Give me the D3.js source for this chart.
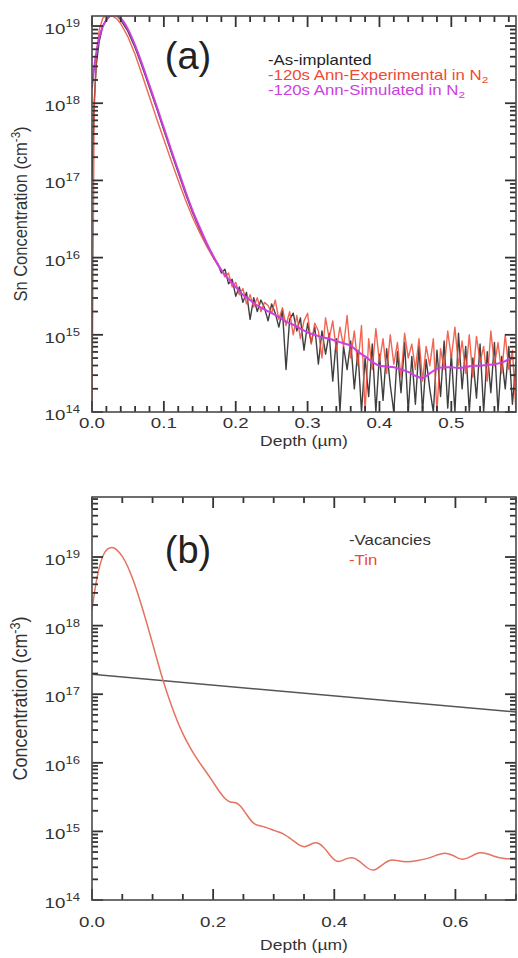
<!DOCTYPE html>
<html>
<head>
<meta charset="utf-8">
<script src="https://cdn.jsdelivr.net/npm/d3@7"></script>
<style>
  html, body { margin: 0; padding: 0; background: #fff; }
  svg { display: block; }
  text { font-family: "Liberation Sans", Arial, Helvetica, sans-serif; }
</style>
</head>
<body>
<svg id="chart" width="518" height="958"></svg>
<script>
// ---------------- DATA ----------------
// Panel (a): depth (µm) and log10 of Sn concentration (cm^-3)
const depthA_peak = [0.000, 0.003, 0.006, 0.010, 0.015, 0.020, 0.025, 0.030, 0.035, 0.040, 0.050, 0.060, 0.070, 0.080, 0.090, 0.100, 0.110, 0.120, 0.130, 0.140, 0.150, 0.160];
const asImplantedPeakLog = [17.0, 18.0, 18.5, 18.8, 19.0, 19.08, 19.13, 19.15, 19.13, 19.08, 18.93, 18.72, 18.47, 18.2, 17.93, 17.65, 17.37, 17.1, 16.83, 16.58, 16.36, 16.16];
const experimentalPeakLog = [14.0, 17.9, 18.6, 18.95, 19.1, 19.15, 19.15, 19.12, 19.09, 19.03, 18.86, 18.63, 18.36, 18.08, 17.8, 17.53, 17.26, 17.0, 16.75, 16.52, 16.32, 16.14];

const depthA_tail = [0.170,0.175,0.180,0.185,0.190,0.195,0.200,0.205,0.210,0.215,0.220,0.225,0.230,0.235,0.240,0.245,0.250,0.255,0.260,0.265,0.270,0.275,0.280,0.285,0.290,0.295,0.300,0.305,0.310,0.315,0.320,0.325,0.330,0.335,0.340,0.345,0.350,0.355,0.360,0.365,0.370,0.375,0.380,0.385,0.390,0.395,0.400,0.405,0.410,0.415,0.420,0.425,0.430,0.435,0.440,0.445,0.450,0.455,0.460,0.465,0.470,0.475,0.480,0.485,0.490,0.495,0.500,0.505,0.510,0.515,0.520,0.525,0.530,0.535,0.540,0.545,0.550,0.555,0.560,0.565,0.570,0.575,0.580,0.585,0.590];
const asImplantedTailLog = [15.98,15.92,15.80,15.85,15.66,15.72,15.50,15.62,15.42,15.55,15.20,15.48,15.30,15.45,15.35,15.18,15.40,15.28,15.10,15.32,14.55,15.20,15.28,15.05,15.22,14.80,15.15,14.90,15.10,14.62,15.05,14.75,15.02,14.40,14.95,14.00,14.85,14.55,14.92,14.30,14.80,14.00,14.70,14.20,14.88,14.00,14.75,14.15,14.82,14.35,14.00,14.78,14.25,14.90,14.00,14.72,14.10,14.85,14.00,14.68,14.30,14.00,14.80,14.20,14.92,14.05,14.75,14.00,15.02,14.30,14.85,14.00,14.70,14.18,14.88,14.00,14.78,14.25,14.90,14.00,14.72,14.30,14.85,14.10,14.65];
const experimentalTailLog = [15.98,15.90,15.84,15.75,15.80,15.62,15.68,15.52,15.60,15.40,15.52,15.36,15.48,15.30,15.42,15.38,15.28,15.45,15.20,15.35,15.12,15.30,15.00,15.25,14.95,15.18,15.28,14.88,15.15,15.05,14.70,15.22,14.95,15.18,14.80,15.10,14.85,15.25,14.70,15.05,14.60,15.12,14.00,14.95,14.55,15.08,14.65,14.95,14.50,15.00,14.62,14.90,14.45,15.02,14.70,14.88,14.55,14.95,14.40,14.85,14.60,14.95,14.00,14.82,14.55,15.05,14.70,15.10,14.60,14.92,14.50,15.00,14.45,14.98,14.65,14.85,14.40,15.05,14.60,14.90,14.50,15.00,14.55,14.80,14.00];

const depthA_sim = [0.000,0.005,0.010,0.020,0.030,0.040,0.050,0.060,0.070,0.080,0.090,0.100,0.110,0.120,0.130,0.140,0.150,0.160,0.170,0.180,0.190,0.200,0.210,0.220,0.230,0.240,0.250,0.260,0.270,0.280,0.290,0.300,0.310,0.320,0.330,0.340,0.350,0.360,0.370,0.380,0.390,0.400,0.410,0.420,0.430,0.440,0.450,0.460,0.470,0.480,0.490,0.500,0.510,0.520,0.530,0.540,0.550,0.560,0.570,0.580,0.590];
const simulatedLog = [18.2,18.6,18.85,19.08,19.15,19.1,18.96,18.75,18.5,18.23,17.96,17.68,17.4,17.13,16.86,16.61,16.39,16.18,16.0,15.84,15.72,15.62,15.52,15.45,15.38,15.33,15.28,15.23,15.17,15.13,15.08,15.03,15.0,14.97,14.95,14.92,14.89,14.86,14.78,14.72,14.65,14.6,14.59,14.58,14.55,14.52,14.47,14.44,14.5,14.56,14.58,14.58,14.57,14.58,14.6,14.6,14.61,14.62,14.64,14.68,14.7];

// Panel (b): depth (µm) and log10 concentration (cm^-3)
const depthB_vac = [0.0, 0.7];
const vacanciesLog = [17.29, 16.74];
const depthB_tin = [0.000,0.005,0.010,0.015,0.020,0.025,0.033,0.040,0.050,0.060,0.070,0.080,0.090,0.100,0.110,0.120,0.130,0.140,0.150,0.160,0.170,0.180,0.190,0.200,0.210,0.220,0.228,0.236,0.245,0.255,0.265,0.275,0.285,0.295,0.305,0.316,0.330,0.345,0.352,0.362,0.373,0.385,0.397,0.407,0.418,0.430,0.440,0.452,0.465,0.477,0.493,0.505,0.520,0.535,0.553,0.568,0.583,0.597,0.611,0.625,0.638,0.652,0.665,0.680,0.700];
const tinLog = [18.23,18.55,18.78,18.95,19.06,19.12,19.15,19.12,19.02,18.85,18.62,18.35,18.05,17.74,17.42,17.12,16.86,16.62,16.42,16.25,16.10,15.97,15.85,15.72,15.58,15.47,15.42,15.43,15.38,15.25,15.12,15.08,15.07,15.03,15.00,14.97,14.88,14.78,14.77,14.82,14.85,14.75,14.60,14.54,14.60,14.63,14.58,14.48,14.41,14.50,14.60,14.57,14.55,14.57,14.60,14.65,14.70,14.65,14.57,14.63,14.70,14.68,14.63,14.60,14.60];

const xTicksA = [0, 0.1, 0.2, 0.3, 0.4, 0.5];
const xTicksB = [0, 0.2, 0.4, 0.6];
const yExponents = [14, 15, 16, 17, 18, 19];

// ---------------- DRAW ----------------
const svg = d3.select("#chart");
const axisColor = "#333";
const SX = 1.25; // horizontal stretch of lettering in the reference

function pts(depths, logs) { return depths.map((d, i) => ({ d: d, c: Math.pow(10, logs[i]) })); }

function stretchedText(parent, x, y, anchor, size, color, sx) {
  return parent.append("text")
    .attr("transform", `translate(${x},${y}) scale(${sx || SX},1)`)
    .attr("text-anchor", anchor).attr("font-size", size).attr("fill", color);
}

function tick(parent, x1, y1, x2, y2) {
  parent.append("line").attr("x1", x1).attr("y1", y1).attr("x2", x2).attr("y2", y2)
    .attr("stroke", axisColor).attr("stroke-width", 1.8).attr("stroke-linecap", "butt");
}

function drawPanel(cfg) {
  const g = svg.append("g");
  const x = d3.scaleLinear().domain(cfg.xDomain).range([cfg.left, cfg.right]);
  const y = d3.scaleLog().domain(cfg.yDomain).range([cfg.bottom, cfg.top]);
  const clipId = "clip" + cfg.id;
  svg.append("clipPath").attr("id", clipId).append("rect")
    .attr("x", cfg.left).attr("y", cfg.top)
    .attr("width", cfg.right - cfg.left).attr("height", cfg.bottom - cfg.top);

  // series
  const lg = g.append("g").attr("clip-path", `url(#${clipId})`);
  cfg.series.forEach(s => {
    const line = d3.line().x(p => x(p.d)).y(p => y(Math.max(p.c, cfg.yDomain[0] * 0.999))).curve(s.curve || d3.curveLinear);
    lg.append("path").datum(s.data).attr("d", line)
      .attr("fill", "none").attr("stroke", s.color).attr("stroke-width", s.width)
      .attr("stroke-opacity", s.opacity || 1).attr("stroke-linejoin", "round");
  });

  // ticks (inward, mirrored on all sides)
  const minorX = d3.range(cfg.xDomain[0], cfg.xDomain[1] + 1e-9, cfg.minorStep)
    .filter(v => !cfg.xTicks.some(t => Math.abs(t - v) < 1e-9));
  const majorY = yExponents.map(e => Math.pow(10, e));
  const minorY = [];
  for (let e = 14; e <= 19; e++) for (let m = 2; m <= 9; m++) {
    const v = m * Math.pow(10, e);
    if (v <= cfg.yDomain[1]) minorY.push(v);
  }
  const tg = g.append("g");
  const xt = cfg.xTicks.map(v => ({ v, len: 11 })).concat(minorX.map(v => ({ v, len: 6 })));
  const ytk = majorY.map(v => ({ v, len: 11 })).concat(minorY.map(v => ({ v, len: 6 })));
  xt.forEach(t => {
    tick(tg, x(t.v), cfg.bottom, x(t.v), cfg.bottom - t.len);
    tick(tg, x(t.v), cfg.top, x(t.v), cfg.top + t.len);
  });
  ytk.forEach(t => {
    tick(tg, cfg.left, y(t.v), cfg.left + t.len, y(t.v));
    tick(tg, cfg.right, y(t.v), cfg.right - t.len, y(t.v));
  });

  // frame
  g.append("rect").attr("x", cfg.left).attr("y", cfg.top)
    .attr("width", cfg.right - cfg.left).attr("height", cfg.bottom - cfg.top)
    .attr("fill", "none").attr("stroke", "#4a4a4a").attr("stroke-width", 1.6);

  // x tick labels
  cfg.xTicks.forEach(v => {
    stretchedText(g, x(v), cfg.bottom + cfg.xLabelDy, "middle", 15, "#333").text(d3.format(".1f")(v));
  });

  // y tick labels with superscripts
  majorY.forEach((v, i) => {
    const t = stretchedText(g, cfg.left - 12, y(v) + 8, "end", 15, "#333");
    t.append("tspan").text("10");
    t.append("tspan").attr("font-size", 10.5).attr("dy", -7).text(String(yExponents[i]));
  });

  // axis titles
  stretchedText(g, (cfg.left + cfg.right) / 2, cfg.xTitleY, "middle", 14, "#333").text("Depth (µm)");
  const ytl = g.append("text").attr("transform", `translate(27,${(cfg.top + cfg.bottom) / 2}) scale(1.15,1) rotate(-90)`)
    .attr("text-anchor", "middle").attr("fill", "#333").attr("font-size", cfg.yTitleSize);
  ytl.append("tspan").text(cfg.yTitle + " (cm");
  ytl.append("tspan").attr("font-size", cfg.yTitleSize * 0.7).attr("dy", -6).text("-3");
  ytl.append("tspan").attr("dy", 6).text(")");

  // panel letter
  g.append("text").attr("x", cfg.letterX).attr("y", cfg.letterY).attr("text-anchor", "middle")
    .attr("font-family", "Liberation Serif, Times New Roman, serif").attr("font-size", 38)
    .attr("fill", "#222").text(cfg.letter);

  // legend
  cfg.legend.forEach((L, i) => {
    const t = stretchedText(g, cfg.legendX, cfg.legendY + i * cfg.legendDy, "start", cfg.legendSize, L.color, 1.2);
    t.append("tspan").text("-" + L.label);
    if (L.sub) t.append("tspan").attr("font-size", cfg.legendSize * 0.7).attr("dy", 3).text(L.sub);
  });
}

const colBlack = "#2a2a2a", colRed = "#ee4a35", colMag = "#cc3fe0", colTin = "#e4735f", colVac = "#555555";

drawPanel({
  id: "a", left: 92, right: 516, top: 16, bottom: 412,
  xDomain: [0, 0.59], yDomain: [1e14, Math.pow(10, 19.13)],
  xTicks: xTicksA, minorStep: 0.02, xLabelDy: 16, xTitleY: 446,
  yTitle: "Sn Concentration", yTitleSize: 16.5,
  letter: "(a)", letterX: 188, letterY: 69,
  legendX: 268, legendY: 65, legendDy: 15, legendSize: 14,
  legend: [
    { label: "As-implanted", color: "#222" },
    { label: "120s Ann-Experimental in N", sub: "2", color: colRed },
    { label: "120s Ann-Simulated in N", sub: "2", color: colMag }
  ],
  series: [
    { data: pts(depthA_peak.concat(depthA_tail), asImplantedPeakLog.concat(asImplantedTailLog)), color: colBlack, width: 1.4, opacity: 0.9 },
    { data: pts(depthA_peak.concat(depthA_tail), experimentalPeakLog.concat(experimentalTailLog)), color: colRed, width: 1.4, opacity: 0.85 },
    { data: pts(depthA_sim, simulatedLog), color: colMag, width: 2, curve: d3.curveMonotoneX }
  ]
});

drawPanel({
  id: "b", left: 92, right: 516, top: 497, bottom: 900,
  xDomain: [0, 0.7], yDomain: [1e14, Math.pow(10, 19.875)],
  xTicks: xTicksB, minorStep: 0.05, xLabelDy: 27, xTitleY: 950,
  yTitle: "Concentration", yTitleSize: 18,
  letter: "(b)", letterX: 188, letterY: 563,
  legendX: 349, legendY: 545, legendDy: 20, legendSize: 14,
  legend: [
    { label: "Vacancies", color: "#333" },
    { label: "Tin", color: "#e84a3a" }
  ],
  series: [
    { data: pts(depthB_vac, vacanciesLog), color: colVac, width: 1.5 },
    { data: pts(depthB_tin, tinLog), color: colTin, width: 1.5, curve: d3.curveBasis }
  ]
});
</script>
</body>
</html>
